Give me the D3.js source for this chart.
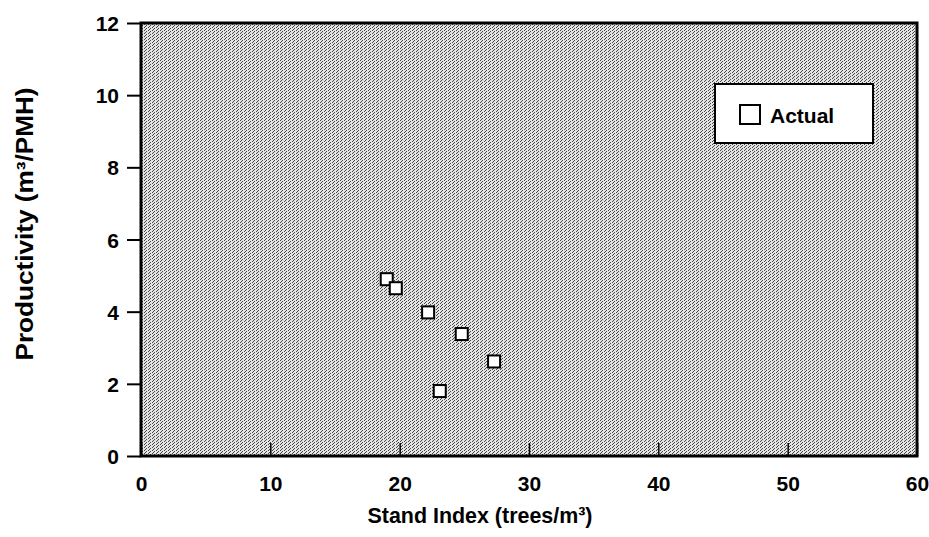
<!DOCTYPE html>
<html>
<head>
<meta charset="utf-8">
<script src="https://cdn.jsdelivr.net/npm/d3@7"></script>
<style>
  body { margin: 0; background: #fff; }
  text { font-family: "Liberation Sans", Arial, sans-serif; font-weight: bold; fill: #000; }
</style>
</head>
<body>
<svg id="chart" width="929" height="537"></svg>
<script>
// ---- DATA ----
const standIndex = [19.0, 19.7, 22.2, 24.8, 27.3, 23.1];
const productivity = [4.9, 4.65, 3.98, 3.38, 2.62, 1.8];
const xTicks = [0, 10, 20, 30, 40, 50, 60];
const yTicks = [0, 2, 4, 6, 8, 10, 12];
const legendLabel = "Actual";

const svg = d3.select("#chart");
const margin = { left: 141, top: 23, right: 12, bottom: 81 };
const width = 929, height = 537;

const x = d3.scaleLinear().domain([0, 60]).range([margin.left, width - margin.right]);
const y = d3.scaleLinear().domain([0, 12]).range([height - margin.bottom, margin.top]);

// stippled fill, like the halftone in the scan
const defs = svg.append("defs");
const pat = defs.append("pattern")
  .attr("id", "stipple")
  .attr("patternUnits", "userSpaceOnUse")
  .attr("width", 4).attr("height", 3);
pat.append("rect").attr("width", 4).attr("height", 3).attr("fill", "#e4e4e4");
[[0, 0], [2, 1], [1, 2]].forEach(p => {
  pat.append("rect").attr("x", p[0]).attr("y", p[1]).attr("width", 1).attr("height", 1).attr("fill", "#444");
});

svg.append("rect")
  .attr("x", x(0)).attr("y", y(12))
  .attr("width", x(60) - x(0)).attr("height", y(0) - y(12))
  .attr("fill", "url(#stipple)");

// ---- axes ----
const yAxis = d3.axisLeft(y).tickValues(yTicks).tickSize(14).tickPadding(8).tickFormat(d3.format("d"));
const gy = svg.append("g").attr("transform", `translate(${x(0)},0)`).call(yAxis);
gy.select(".domain").remove();
gy.selectAll("line").attr("stroke", "#000").attr("stroke-width", 2);
gy.selectAll("text").attr("font-size", 21).style("font-size", "21px").attr("dy", "0.36em");

const xAxis = d3.axisBottom(x).tickValues(xTicks).tickSize(-13).tickPadding(20).tickFormat(d3.format("d"));
const gx = svg.append("g").attr("transform", `translate(0,${y(0)})`).call(xAxis);
gx.select(".domain").remove();
gx.selectAll("line").attr("stroke", "#000").attr("stroke-width", 1.5);
gx.selectAll("text").attr("font-size", 21).style("font-size", "21px");

// frame
svg.append("rect")
  .attr("x", x(0)).attr("y", y(12))
  .attr("width", x(60) - x(0)).attr("height", y(0) - y(12))
  .attr("fill", "none").attr("stroke", "#000").attr("stroke-width", 3);

// axis titles
svg.append("text")
  .attr("x", 480).attr("y", 523)
  .attr("text-anchor", "middle")
  .style("font-size", "22px")
  .attr("textLength", 225).attr("lengthAdjust", "spacingAndGlyphs")
  .text("Stand Index (trees/m³)");

svg.append("text")
  .attr("transform", "translate(33,224) rotate(-90)")
  .attr("text-anchor", "middle")
  .style("font-size", "23px")
  .attr("textLength", 273).attr("lengthAdjust", "spacingAndGlyphs")
  .text("Productivity (m³/PMH)");

// ---- points ----
const pts = standIndex.map((v, i) => ({ x: v, y: productivity[i] }));
svg.append("g").selectAll("rect").data(pts).enter().append("rect")
  .attr("x", d => x(d.x) - 6)
  .attr("y", d => y(d.y) - 6)
  .attr("width", 12).attr("height", 12)
  .attr("fill", "#fff").attr("stroke", "#000").attr("stroke-width", 2);

// ---- legend ----
const lg = svg.append("g").attr("transform", "translate(715,84)");
lg.append("rect").attr("width", 158).attr("height", 59)
  .attr("fill", "#fff").attr("stroke", "#000").attr("stroke-width", 2);
lg.append("rect").attr("x", 25).attr("y", 21).attr("width", 20).attr("height", 19)
  .attr("fill", "#fff").attr("stroke", "#000").attr("stroke-width", 2);
lg.append("text").attr("x", 55).attr("y", 39).style("font-size", "21px").text(legendLabel);
</script>
</body>
</html>
